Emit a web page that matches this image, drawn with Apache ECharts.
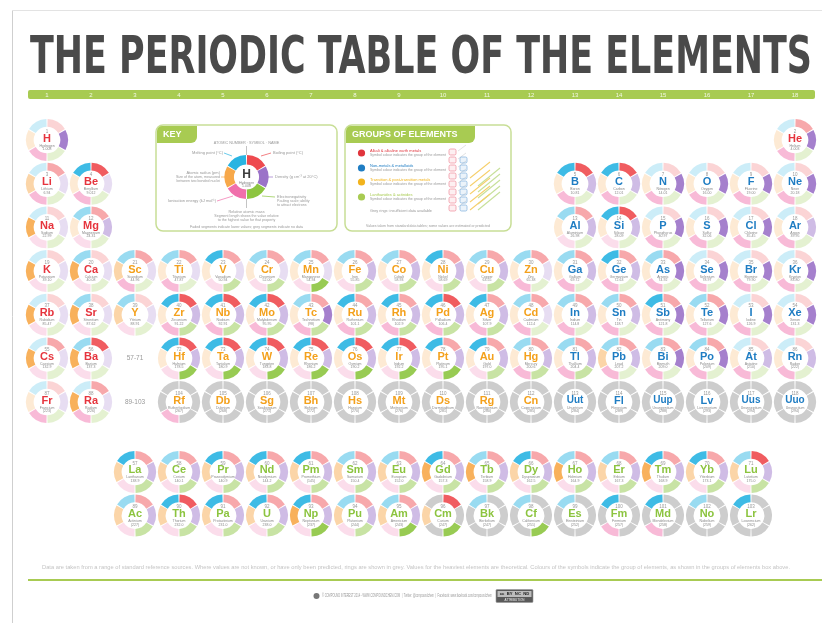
<!DOCTYPE html>
<html><head><meta charset="utf-8">
<script src="https://cdn.jsdelivr.net/npm/echarts@6/dist/echarts.min.js"></script>
<style>html,body{margin:0;padding:0;background:#fff}#c{width:822px;height:623px}</style>
</head><body><div id="c"></div>
<script>
// ---------------- DATA ----------------
const titleText = 'THE PERIODIC TABLE OF THE ELEMENTS';
const groupNumbers = ['1','2','3','4','5','6','7','8','9','10','11','12','13','14','15','16','17','18'];

const symbols = ["H","He","Li","Be","B","C","N","O","F","Ne","Na","Mg","Al","Si","P","S","Cl","Ar","K","Ca","Sc","Ti","V","Cr","Mn","Fe","Co","Ni","Cu","Zn","Ga","Ge","As","Se","Br","Kr","Rb","Sr","Y","Zr","Nb","Mo","Tc","Ru","Rh","Pd","Ag","Cd","In","Sn","Sb","Te","I","Xe","Cs","Ba","La","Ce","Pr","Nd","Pm","Sm","Eu","Gd","Tb","Dy","Ho","Er","Tm","Yb","Lu","Hf","Ta","W","Re","Os","Ir","Pt","Au","Hg","Tl","Pb","Bi","Po","At","Rn","Fr","Ra","Ac","Th","Pa","U","Np","Pu","Am","Cm","Bk","Cf","Es","Fm","Md","No","Lr","Rf","Db","Sg","Bh","Hs","Mt","Ds","Rg","Cn","Uut","Fl","Uup","Lv","Uus","Uuo"];

const names = ["Hydrogen","Helium","Lithium","Beryllium","Boron","Carbon","Nitrogen","Oxygen","Fluorine","Neon","Sodium","Magnesium","Aluminium","Silicon","Phosphorus","Sulfur","Chlorine","Argon","Potassium","Calcium","Scandium","Titanium","Vanadium","Chromium","Manganese","Iron","Cobalt","Nickel","Copper","Zinc","Gallium","Germanium","Arsenic","Selenium","Bromine","Krypton","Rubidium","Strontium","Yttrium","Zirconium","Niobium","Molybdenum","Technetium","Ruthenium","Rhodium","Palladium","Silver","Cadmium","Indium","Tin","Antimony","Tellurium","Iodine","Xenon","Caesium","Barium","Lanthanum","Cerium","Praseodymium","Neodymium","Promethium","Samarium","Europium","Gadolinium","Terbium","Dysprosium","Holmium","Erbium","Thulium","Ytterbium","Lutetium","Hafnium","Tantalum","Tungsten","Rhenium","Osmium","Iridium","Platinum","Gold","Mercury","Thallium","Lead","Bismuth","Polonium","Astatine","Radon","Francium","Radium","Actinium","Thorium","Protactinium","Uranium","Neptunium","Plutonium","Americium","Curium","Berkelium","Californium","Einsteinium","Fermium","Mendelevium","Nobelium","Lawrencium","Rutherfordium","Dubnium","Seaborgium","Bohrium","Hassium","Meitnerium","Darmstadtium","Roentgenium","Copernicium","Ununtrium","Flerovium","Ununpentium","Livermorium","Ununseptium","Ununoctium"];

const masses = ["1.008","4.003","6.94","9.012","10.81","12.01","14.01","16.00","19.00","20.18","22.99","24.31","26.98","28.09","30.97","32.06","35.45","39.95","39.10","40.08","44.96","47.87","50.94","52.00","54.94","55.85","58.93","58.69","63.55","65.38","69.72","72.63","74.92","78.97","79.90","83.80","85.47","87.62","88.91","91.22","92.91","95.95","(98)","101.1","102.9","106.4","107.9","112.4","114.8","118.7","121.8","127.6","126.9","131.3","132.9","137.3","138.9","140.1","140.9","144.2","(145)","150.4","152.0","157.3","158.9","162.5","164.9","167.3","168.9","173.1","175.0","178.5","180.9","183.8","186.2","190.2","192.2","195.1","197.0","200.6","204.4","207.2","209.0","(209)","(210)","(222)","(223)","(226)","(227)","232.0","231.0","238.0","(237)","(244)","(243)","(247)","(247)","(251)","(252)","(257)","(258)","(259)","(262)","(267)","(268)","(271)","(272)","(270)","(276)","(281)","(280)","(285)","(284)","(289)","(288)","(293)","(294)","(294)"];

const groups = [
 1,18,
 1,2,13,14,15,16,17,18,
 1,2,13,14,15,16,17,18,
 1,2,3,4,5,6,7,8,9,10,11,12,13,14,15,16,17,18,
 1,2,3,4,5,6,7,8,9,10,11,12,13,14,15,16,17,18,
 1,2, 3,4,5,6,7,8,9,10,11,12,13,14,15,16,17, 4,5,6,7,8,9,10,11,12,13,14,15,16,17,18,
 1,2, 3,4,5,6,7,8,9,10,11,12,13,14,15,16,17, 4,5,6,7,8,9,10,11,12,13,14,15,16,17,18
];
const rows = [
 1,1,
 2,2,2,2,2,2,2,2,
 3,3,3,3,3,3,3,3,
 4,4,4,4,4,4,4,4,4,4,4,4,4,4,4,4,4,4,
 5,5,5,5,5,5,5,5,5,5,5,5,5,5,5,5,5,5,
 6,6, 8.6,8.6,8.6,8.6,8.6,8.6,8.6,8.6,8.6,8.6,8.6,8.6,8.6,8.6,8.6, 6,6,6,6,6,6,6,6,6,6,6,6,6,6,6,
 7,7, 9.6,9.6,9.6,9.6,9.6,9.6,9.6,9.6,9.6,9.6,9.6,9.6,9.6,9.6,9.6, 7,7,7,7,7,7,7,7,7,7,7,7,7,7,7
];

// ring segment levels: [cyan TL, red TR, purple R, green BR, pink BL, orange L]; 0 pale, 1 mid, 2 strong, g grey
const ringCodes = [
 "002010","012010",
 "010011","220010","221010","221010","002010","002010","002010","002010",
 "000002","111000","111000","221000","002010","002010","002010","001010",
 "000002","100002","110011","110010","210100","110100","110200","111100","111100","211100","111100","110010","111010","211010","112010","002010","002010","002010",
 "000002","100002","100001","221110","221110","221110","112110","211110","211110","221110","211110","110010","111010","111010","212010","112010","002010","002010",
 "010002","120002",
 "211101","111101","211101","211101","211101","111101","111101","211102","111102","211101","111102","111101","211102","211101","121101",
 "221200","221200","221200","221200","221200","221200","211200","211100","111110","111110","111011","112010","112010","001010","001010",
 "000010","010012",
 "111101","221101","211101","211101","211202","111101","111201","g2g2g1","1ggggg","1gg2gg","1ggggg","2ggg1g","2ggg1g","1ggggg","2ggggg",
 "gggg1g","gggggg","gggggg","gggggg","gggggg","gggggg","gggggg","gggggg","gggggg","gggggg","gggggg","gggggg","gggggg","gggggg","gggggg"
];

const seriesLabels = ['57-71','89-103'];
const seriesLabelGroups = [3,3];
const seriesLabelRows = [6,7];

const keySegments = [1,1,1,1,1,1];
const keyNames = ['Melting point','Boiling point','Density','Electronegativity','Ionisation energy','Atomic radius'];

const groupKinds = ['Alkali & alkaline earth metals','Non-metals & metalloids','Transition & post-transition metals','Lanthanides & actinides'];

// ---------------- STYLE ----------------
const segColors = ['#29b4e2','#ee4a4f','#9b72c8','#8dc540','#f06fab','#f7a84a'];
const levelOpacity = {'0':0.24,'1':0.48,'2':0.9};
const greyRing = '#cdcdcd';
const green = '#a8cb52';
const symCol = {red:'#e6343d', orange:'#f4a11c', blue:'#1f7dc3', green:'#8cc43f'};
function symbolColor(i){
  const g = groups[i], r = rows[i];
  if (r > 8) return symCol.green;
  if (g <= 2 || i === 1) return symCol.red;
  if (g <= 12) return symCol.orange;
  return symCol.blue;
}

const mctx = document.createElement('canvas').getContext('2d');
function fitScale(text, font, width){ mctx.font = font; return width / mctx.measureText(text).width; }

const chart = echarts.init(document.getElementById('c'));

function renderElement(params, api){
  const i = api.value(2);
  const c = api.coord([api.value(0), api.value(1)]);
  const code = ringCodes[i];
  const R = 21, R0 = 13.3;
  const ch = [];
  for (let k = 0; k < 6; k++){
    const lv = code[k];
    const a0 = (-150 + 60*k + 1.6) * Math.PI/180;
    const a1 = (-150 + 60*(k+1) - 1.6) * Math.PI/180;
    const fill = lv === 'g' ? greyRing : segColors[k];
    const op = lv === 'g' ? 1 : levelOpacity[lv];
    ch.push({type:'sector', shape:{cx:c[0], cy:c[1], r:R, r0:R0, startAngle:a0, endAngle:a1, clockwise:true},
      style:{fill:fill, opacity:op}});
  }
  ch.push({type:'text', x:c[0], y:c[1]-8.5, style:{text:String(i+1), fontSize:4.5, fill:'#999', align:'center', verticalAlign:'middle', fontFamily:'Liberation Sans'}});
  ch.push({type:'text', x:c[0], y:c[1]-1.5, style:{text:symbols[i], fontSize:symbols[i].length>2?10:11, fontWeight:'bold', fill:symbolColor(i), align:'center', verticalAlign:'middle', fontFamily:'Liberation Sans'}});
  ch.push({type:'text', x:c[0], y:c[1]+5.5, style:{text:names[i], fontSize:3.5, fill:'#888', align:'center', verticalAlign:'middle', fontFamily:'Liberation Sans'}});
  ch.push({type:'text', x:c[0], y:c[1]+9, style:{text:masses[i], fontSize:3.5, fill:'#888', align:'center', verticalAlign:'middle', fontFamily:'Liberation Sans'}});
  return {type:'group', children:ch};
}

function renderSeriesLabel(params, api){
  const i = api.value(2);
  const c = api.coord([api.value(0), api.value(1)]);
  return {type:'text', x:c[0], y:c[1], style:{text:seriesLabels[i], fontSize:6.5, fill:'#9a9a9a', align:'center', verticalAlign:'middle', fontFamily:'Liberation Sans'}};
}

// ---------------- GRAPHIC (decoration) ----------------
const G = [];
function T(x, y, text, size, opts){
  opts = opts || {};
  G.push({type:'text', x:x, y:y, silent:true, scaleX:opts.sx||1,
    style:{text:text, fontSize:size, fontWeight:opts.bold?'bold':'normal', fill:opts.color||'#999',
      align:opts.align||'left', verticalAlign:'middle', fontFamily:opts.family||'Liberation Sans'}});
}
function L(x1,y1,x2,y2,color,w){ G.push({type:'line', silent:true, shape:{x1,y1,x2,y2}, style:{stroke:color, lineWidth:w||0.6}}); }

// frame
L(12.5, 10, 12.5, 623, '#cfcfcf', 1);
L(12, 10.5, 822, 10.5, '#e3e3e3', 1);

// title
const titleFont = 'bold 52px "Liberation Sans Narrow", "DejaVu Sans Condensed", "Liberation Sans", sans-serif';
G.push({type:'text', x:30, y:59, silent:true, scaleX:fitScale(titleText, titleFont, 782),
  style:{text:titleText, font:titleFont, fill:'#4a4a4a', align:'left', verticalAlign:'middle'}});

// green bar
G.push({type:'rect', silent:true, z:-1, shape:{x:28, y:90, width:787, height:9, r:2}, style:{fill:green}});

// KEY box
G.push({type:'rect', silent:true, shape:{x:156, y:125, width:181, height:106, r:7}, style:{fill:'#fff', stroke:'#c8de96', lineWidth:1.5}});
G.push({type:'rect', silent:true, shape:{x:157, y:126, width:40, height:17, r:[5,0,6,0]}, style:{fill:green}});
T(163, 134.5, 'KEY', 9, {bold:true, color:'#fff'});
const kc = [246.5, 177];
L(kc[0], 146, kc[0], 155, '#b5b5b5', 0.8);
L(kc[0], 199, kc[0], 208, '#b5b5b5', 0.8);
T(kc[0], 142.5, 'ATOMIC NUMBER · SYMBOL · NAME', 3.8, {align:'center'});
T(223, 153, keyNames[0] + ' (°C)', 4, {align:'right'}); L(224,153,232,156,segColors[0],0.7);
T(273, 153, keyNames[1] + ' (°C)', 4); L(261,156,271,153,segColors[1],0.7);
T(275, 177, keyNames[2] + ' (g cm⁻³ at 20°C)', 4); L(268,177,273,177,segColors[2],0.7);
T(220, 173, keyNames[5] + ' (pm)', 4, {align:'right'});
T(220, 177, 'Size of the atom, measured', 3.6, {align:'right'});
T(220, 181, 'between two bonded nuclei', 3.6, {align:'right'}); L(221,177,225,177,segColors[5],0.7);
T(216, 201, keyNames[4] + ' (kJ mol⁻¹)', 4, {align:'right'}); L(217,201,233,196,segColors[4],0.7);
T(277, 197, keyNames[3], 4);
T(277, 201, 'Pauling scale; ability', 3.6);
T(277, 205, 'to attract electrons', 3.6); L(262,196,275,197,segColors[3],0.7);
T(kc[0], 212, 'Relative atomic mass', 3.8, {align:'center'});
T(kc[0], 216, 'Segment length shows the value relative', 3.6, {align:'center'});
T(kc[0], 220, 'to the highest value for that property', 3.6, {align:'center'});
T(kc[0], 227, 'Faded segments indicate lower values; grey segments indicate no data', 3.6, {align:'center'});

// GROUPS box
G.push({type:'rect', silent:true, shape:{x:345, y:125, width:166, height:106, r:7}, style:{fill:'#fff', stroke:'#c8de96', lineWidth:1.5}});
G.push({type:'rect', silent:true, shape:{x:346, y:126, width:129, height:17, r:[5,0,6,0]}, style:{fill:green}});
T(352, 134.5, 'GROUPS OF ELEMENTS', 9, {bold:true, color:'#fff'});
const dotCols = ['#e0343c','#1f7dc3','#f2b31c','#a8cb52'];
const dotYs = [153, 168, 182, 197];
for (let k = 0; k < 4; k++){
  G.push({type:'circle', silent:true, shape:{cx:361.5, cy:dotYs[k], r:3.6}, style:{fill:dotCols[k]}});
  T(370, dotYs[k]-2.2, groupKinds[k], 4, {color:dotCols[k]});
  T(370, dotYs[k]+2.4, 'Symbol colour indicates the group of the element', 3.5);
}
T(370, 211, 'Grey rings: insufficient data available', 3.8);
T(428, 226, 'Values taken from standard data tables; some values are estimated or predicted', 3.5, {align:'center'});
for (let k = 0; k < 8; k++){
  G.push({type:'rect', silent:true, shape:{x:449, y:149+8*k, width:7, height:6, r:1.5}, style:{fill:'rgba(240,120,140,0.12)', stroke:'#ef8a9a', lineWidth:0.7}});
  L(458, 151+8*k, 466, 145+8*k, '#cfcfcf', 0.6);
}
for (let k = 0; k < 7; k++){
  G.push({type:'rect', silent:true, shape:{x:460, y:157+8*k, width:7, height:6, r:1.5}, style:{fill:'rgba(60,140,210,0.10)', stroke:'#7fb0dd', lineWidth:0.7}});
}
for (let k = 0; k < 5; k++){
  L(470, 178+8*k, 490, 162+8*k, '#f6cf6a', 1.1);
  L(478, 186+6*k, 500, 168+6*k, '#c7e09a', 1.1);
}

// footer
const noteText = 'Data are taken from a range of standard reference sources. Where values are not known, or have only been predicted, rings are shown in grey. Values for the heaviest elements are theoretical. Colours of the symbols indicate the group of elements, as shown in the groups of elements box above.';
const noteFont = '4.5px "Liberation Sans"';
G.push({type:'text', x:42, y:568, silent:true, scaleX:fitScale(noteText, noteFont, 748),
  style:{text:noteText, font:noteFont, fill:'#c4c4c4', align:'left', verticalAlign:'middle'}});
G.push({type:'rect', silent:true, shape:{x:28, y:579, width:794, height:2}, style:{fill:green}});
G.push({type:'circle', silent:true, shape:{cx:316.5, cy:596, r:3}, style:{fill:'#777'}});
const footText = '© COMPOUND INTEREST 2014 - WWW.COMPOUNDCHEM.COM  |  Twitter: @compoundchem  |  Facebook: www.facebook.com/compoundchem';
const footFont = '5px "Liberation Sans"';
G.push({type:'text', x:322, y:596, silent:true, scaleX:fitScale(footText, footFont, 170),
  style:{text:footText, font:footFont, fill:'#9a9a9a', align:'left', verticalAlign:'middle'}});
G.push({type:'rect', silent:true, shape:{x:496, y:589.5, width:37, height:13, r:1}, style:{fill:'#5a5a5a', stroke:'#999', lineWidth:0.6}});
G.push({type:'rect', silent:true, shape:{x:497.5, y:591, width:34, height:6}, style:{fill:'#bdbdbd'}});
T(514.5, 594, 'cc  BY  NC  ND', 4.2, {align:'center', color:'#222', bold:true});
T(514.5, 600, 'ATTRIBUTION', 3, {align:'center', color:'#eee'});

// key centre symbol
G.push({type:'circle', silent:true, z:10, shape:{cx:246.5, cy:177, r:12}, style:{fill:'#fff'}});
G.push({type:'text', silent:true, z:11, x:246.5, y:175, style:{text:'H', fontSize:12, fontWeight:'bold', fill:'#3d3d3d', align:'center', verticalAlign:'middle', fontFamily:'Liberation Sans'}});
G.push({type:'text', silent:true, z:11, x:246.5, y:183, style:{text:'Hydrogen', fontSize:3.5, fill:'#888', align:'center', verticalAlign:'middle', fontFamily:'Liberation Sans'}});
G.push({type:'text', silent:true, z:11, x:246.5, y:186.5, style:{text:'1.008', fontSize:3.5, fill:'#888', align:'center', verticalAlign:'middle', fontFamily:'Liberation Sans'}});

// ---------------- OPTION ----------------
const elementData = symbols.map((s, i) => [groups[i]-1, rows[i], i]);
const labelData = seriesLabels.map((s, i) => [seriesLabelGroups[i]-1, seriesLabelRows[i], i]);

chart.setOption({
  animation:false,
  backgroundColor:'#ffffff',
  grid:{left:25, right:5, top:118.2, bottom:68.1, containLabel:false},
  xAxis:{type:'category', data:groupNumbers, position:'top', boundaryGap:true,
    axisLine:{show:false}, axisTick:{show:false}, splitLine:{show:false},
    axisLabel:{show:true, interval:0, margin:20, fontSize:6, color:'rgba(255,255,255,0.85)', fontFamily:'Liberation Sans'}},
  yAxis:{type:'value', min:0.5, max:10.5, inverse:true, show:false},
  graphic:{elements:G},
  series:[
    {type:'custom', coordinateSystem:'cartesian2d', data:elementData, encode:{x:0, y:1}, renderItem:renderElement, clip:false, silent:true, z:3},
    {type:'custom', coordinateSystem:'cartesian2d', data:labelData, encode:{x:0, y:1}, renderItem:renderSeriesLabel, clip:false, silent:true, z:3},
    {type:'pie', center:[246.5, 177], radius:[12.5, 22], startAngle:150, clockwise:true, padAngle:3, silent:true, z:5,
      label:{show:false}, labelLine:{show:false},
      data:keySegments.map((v, k) => ({value:v, name:keyNames[k], itemStyle:{color:segColors[k]}}))}
  ]
});
</script></body></html>
